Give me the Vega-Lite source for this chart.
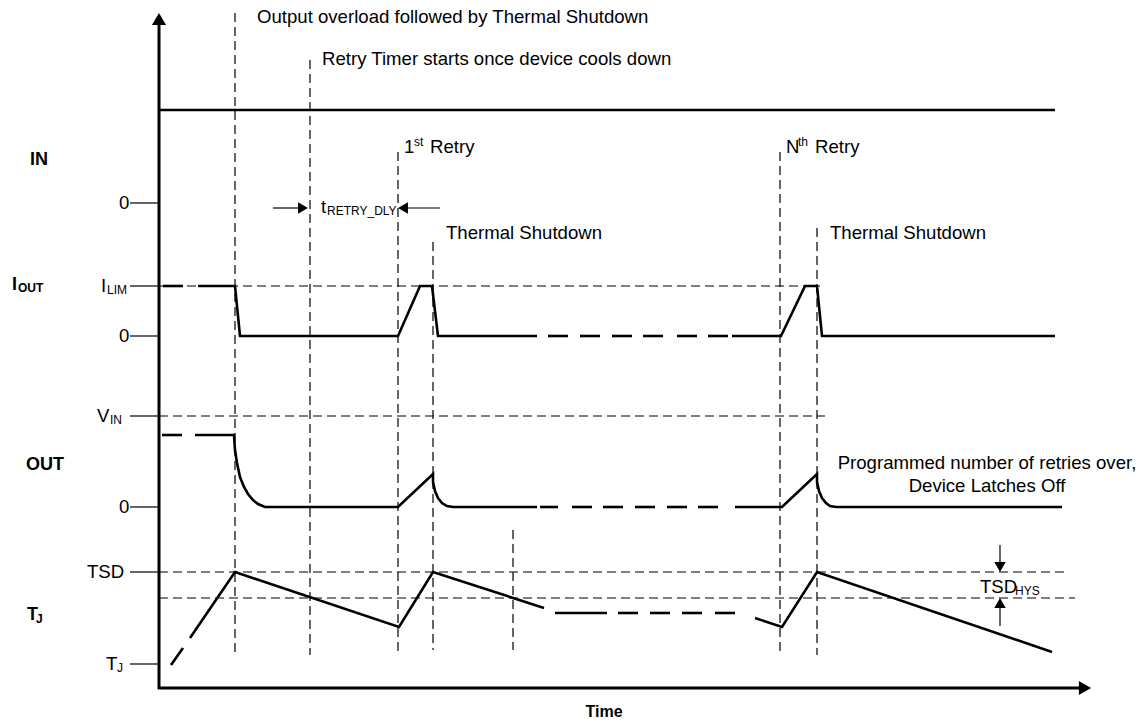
{
  "$schema": "https://vega.github.io/schema/vega-lite/v6.json",
  "width": 1141,
  "height": 723,
  "padding": 0,
  "autosize": {"type": "none"},
  "background": "white",
  "config": {"view": {"stroke": null}, "text": {"font": "Liberation Sans"}},
  "datasets": {
    "wave": [
      {"id": "in", "o": 1, "x": 159, "y": 110}, {"id": "in", "o": 2, "x": 1055, "y": 110},
      {"id": "i0", "o": 1, "x": 163, "y": 286}, {"id": "i0", "o": 2, "x": 183, "y": 286},
      {"id": "i1", "o": 1, "x": 198, "y": 286}, {"id": "i1", "o": 2, "x": 235, "y": 286}, {"id": "i1", "o": 3, "x": 240, "y": 336}, {"id": "i1", "o": 4, "x": 398, "y": 336}, {"id": "i1", "o": 5, "x": 420, "y": 286}, {"id": "i1", "o": 6, "x": 432, "y": 286}, {"id": "i1", "o": 7, "x": 438, "y": 336}, {"id": "i1", "o": 8, "x": 537, "y": 336},
      {"id": "i2", "o": 1, "x": 548, "y": 336}, {"id": "i2", "o": 2, "x": 568, "y": 336},
      {"id": "i3", "o": 1, "x": 580, "y": 336}, {"id": "i3", "o": 2, "x": 600, "y": 336},
      {"id": "i4", "o": 1, "x": 612, "y": 336}, {"id": "i4", "o": 2, "x": 632, "y": 336},
      {"id": "i5", "o": 1, "x": 643, "y": 336}, {"id": "i5", "o": 2, "x": 663, "y": 336},
      {"id": "i6", "o": 1, "x": 677, "y": 336}, {"id": "i6", "o": 2, "x": 697, "y": 336},
      {"id": "i7", "o": 1, "x": 708, "y": 336}, {"id": "i7", "o": 2, "x": 728, "y": 336},
      {"id": "i8", "o": 1, "x": 732, "y": 336}, {"id": "i8", "o": 2, "x": 781, "y": 336}, {"id": "i8", "o": 3, "x": 805, "y": 286}, {"id": "i8", "o": 4, "x": 817, "y": 286}, {"id": "i8", "o": 5, "x": 822, "y": 336}, {"id": "i8", "o": 6, "x": 1055, "y": 336},
      {"id": "o0", "o": 1, "x": 162, "y": 435}, {"id": "o0", "o": 2, "x": 182, "y": 435},
      {"id": "o1", "o": 1, "x": 195, "y": 435}, {"id": "o1", "o": 2, "x": 234, "y": 435}, {"id": "o1", "o": 3, "x": 235, "y": 450}, {"id": "o1", "o": 4, "x": 237, "y": 463}, {"id": "o1", "o": 5, "x": 240, "y": 477}, {"id": "o1", "o": 6, "x": 244, "y": 487}, {"id": "o1", "o": 7, "x": 248, "y": 494}, {"id": "o1", "o": 8, "x": 253, "y": 500}, {"id": "o1", "o": 9, "x": 258, "y": 504}, {"id": "o1", "o": 10, "x": 265, "y": 507}, {"id": "o1", "o": 11, "x": 398, "y": 507}, {"id": "o1", "o": 12, "x": 433, "y": 474}, {"id": "o1", "o": 13, "x": 433, "y": 482}, {"id": "o1", "o": 14, "x": 435, "y": 491}, {"id": "o1", "o": 15, "x": 438, "y": 498}, {"id": "o1", "o": 16, "x": 442, "y": 503}, {"id": "o1", "o": 17, "x": 447, "y": 506}, {"id": "o1", "o": 18, "x": 453, "y": 507}, {"id": "o1", "o": 19, "x": 537, "y": 507},
      {"id": "o2", "o": 1, "x": 540, "y": 507}, {"id": "o2", "o": 2, "x": 558, "y": 507},
      {"id": "o3", "o": 1, "x": 572, "y": 507}, {"id": "o3", "o": 2, "x": 592, "y": 507},
      {"id": "o4", "o": 1, "x": 603, "y": 507}, {"id": "o4", "o": 2, "x": 623, "y": 507},
      {"id": "o5", "o": 1, "x": 635, "y": 507}, {"id": "o5", "o": 2, "x": 655, "y": 507},
      {"id": "o6", "o": 1, "x": 667, "y": 507}, {"id": "o6", "o": 2, "x": 687, "y": 507},
      {"id": "o7", "o": 1, "x": 698, "y": 507}, {"id": "o7", "o": 2, "x": 718, "y": 507},
      {"id": "o8", "o": 1, "x": 735, "y": 507}, {"id": "o8", "o": 2, "x": 782, "y": 507}, {"id": "o8", "o": 3, "x": 817, "y": 474}, {"id": "o8", "o": 4, "x": 817, "y": 482}, {"id": "o8", "o": 5, "x": 819, "y": 491}, {"id": "o8", "o": 6, "x": 822, "y": 498}, {"id": "o8", "o": 7, "x": 826, "y": 503}, {"id": "o8", "o": 8, "x": 830, "y": 506}, {"id": "o8", "o": 9, "x": 836, "y": 507}, {"id": "o8", "o": 10, "x": 1062, "y": 507},
      {"id": "t0", "o": 1, "x": 171, "y": 665}, {"id": "t0", "o": 2, "x": 183, "y": 648},
      {"id": "t1", "o": 1, "x": 190, "y": 638}, {"id": "t1", "o": 2, "x": 235, "y": 572}, {"id": "t1", "o": 3, "x": 399, "y": 627}, {"id": "t1", "o": 4, "x": 433, "y": 572}, {"id": "t1", "o": 5, "x": 544, "y": 608},
      {"id": "t2", "o": 1, "x": 555, "y": 613}, {"id": "t2", "o": 2, "x": 607, "y": 613},
      {"id": "t3", "o": 1, "x": 618, "y": 613}, {"id": "t3", "o": 2, "x": 638, "y": 613},
      {"id": "t4", "o": 1, "x": 650, "y": 613}, {"id": "t4", "o": 2, "x": 670, "y": 613},
      {"id": "t5", "o": 1, "x": 682, "y": 613}, {"id": "t5", "o": 2, "x": 702, "y": 613},
      {"id": "t6", "o": 1, "x": 715, "y": 613}, {"id": "t6", "o": 2, "x": 735, "y": 613},
      {"id": "t7", "o": 1, "x": 755, "y": 618}, {"id": "t7", "o": 2, "x": 782, "y": 627}, {"id": "t7", "o": 3, "x": 817, "y": 572}, {"id": "t7", "o": 4, "x": 1052, "y": 652}
    ],
    "guides": [
      {"x": 235, "y": 13, "x2": 235, "y2": 652},
      {"x": 310, "y": 60, "x2": 310, "y2": 655},
      {"x": 398, "y": 152, "x2": 398, "y2": 653},
      {"x": 433, "y": 242, "x2": 433, "y2": 650},
      {"x": 513, "y": 530, "x2": 513, "y2": 650},
      {"x": 780, "y": 152, "x2": 780, "y2": 652},
      {"x": 817, "y": 228, "x2": 817, "y2": 655},
      {"x": 159, "y": 286, "x2": 820, "y2": 286},
      {"x": 159, "y": 416, "x2": 825, "y2": 416},
      {"x": 159, "y": 572, "x2": 1068, "y2": 572},
      {"x": 159, "y": 598, "x2": 1075, "y2": 598}
    ],
    "axes": [
      {"x": 159, "y": 689, "x2": 159, "y2": 22},
      {"x": 158, "y": 688, "x2": 1082, "y2": 688}
    ],
    "thin": [
      {"x": 130, "y": 203, "x2": 159, "y2": 203},
      {"x": 130, "y": 286, "x2": 159, "y2": 286},
      {"x": 130, "y": 336, "x2": 159, "y2": 336},
      {"x": 130, "y": 416, "x2": 159, "y2": 416},
      {"x": 130, "y": 507, "x2": 159, "y2": 507},
      {"x": 130, "y": 572, "x2": 159, "y2": 572},
      {"x": 130, "y": 664, "x2": 159, "y2": 664},
      {"x": 273, "y": 208, "x2": 300, "y2": 208},
      {"x": 440, "y": 208, "x2": 406, "y2": 208},
      {"x": 1000, "y": 545, "x2": 1000, "y2": 562},
      {"x": 1000, "y": 626, "x2": 1000, "y2": 608}
    ],
    "bigHeads": [
      {"x": 159, "y": 19, "dir": "up"},
      {"x": 1085, "y": 688, "dir": "right"}
    ],
    "smallHeads": [
      {"x": 303, "y": 208, "dir": "right"},
      {"x": 403, "y": 208, "dir": "left"},
      {"x": 1000, "y": 567, "dir": "down"},
      {"x": 1000, "y": 603, "dir": "up"}
    ],
    "labels": [
      {"x": 257, "y": 17, "t": "Output overload followed by Thermal Shutdown"},
      {"x": 322, "y": 59, "t": "Retry Timer starts once device cools down"},
      {"x": 404, "y": 147, "t": "1"},
      {"x": 430, "y": 147, "t": "Retry"},
      {"x": 786, "y": 147, "t": "N"},
      {"x": 815, "y": 147, "t": "Retry"},
      {"x": 446, "y": 233, "t": "Thermal Shutdown"},
      {"x": 830, "y": 233, "t": "Thermal Shutdown"},
      {"x": 321, "y": 207, "t": "t"},
      {"x": 980, "y": 587, "t": "TSD"},
      {"x": 119, "y": 203, "t": "0"},
      {"x": 101, "y": 286, "t": "I"},
      {"x": 119, "y": 336, "t": "0"},
      {"x": 97, "y": 416, "t": "V"},
      {"x": 119, "y": 507, "t": "0"},
      {"x": 87, "y": 572, "t": "TSD"},
      {"x": 106, "y": 664, "t": "T"}
    ],
    "small": [
      {"x": 414, "y": 142, "t": "st"},
      {"x": 798, "y": 142, "t": "th"},
      {"x": 327, "y": 211, "t": "RETRY_DLY"},
      {"x": 1015, "y": 591, "t": "HYS"},
      {"x": 107, "y": 290, "t": "LIM"},
      {"x": 110, "y": 420, "t": "IN"},
      {"x": 117, "y": 668, "t": "J"}
    ],
    "centered": [
      {"x": 987, "y": 463, "t": "Programmed number of retries over,"},
      {"x": 987, "y": 486, "t": "Device Latches Off"}
    ],
    "signals": [
      {"x": 30, "y": 160, "t": "IN"},
      {"x": 12, "y": 285, "t": "I"},
      {"x": 26, "y": 465, "t": "OUT"},
      {"x": 27, "y": 615, "t": "T"}
    ],
    "signalSubs": [
      {"x": 18, "y": 288, "t": "OUT"},
      {"x": 36, "y": 619, "t": "J"}
    ],
    "title": [
      {"x": 604, "y": 712, "t": "Time"}
    ]
  },
  "encoding": {
    "x": {"field": "x", "type": "quantitative", "scale": {"domain": [0, 1141], "nice": false, "zero": false}, "axis": null},
    "y": {"field": "y", "type": "quantitative", "scale": {"domain": [0, 723], "nice": false, "zero": false, "reverse": true}, "axis": null}
  },
  "layer": [
    {
      "data": {"name": "guides"},
      "mark": {"type": "rule", "stroke": "#000", "strokeWidth": 1.2, "strokeDash": [9, 5]},
      "encoding": {"x2": {"field": "x2"}, "y2": {"field": "y2"}}
    },
    {
      "data": {"name": "thin"},
      "mark": {"type": "rule", "stroke": "#000", "strokeWidth": 1.2},
      "encoding": {"x2": {"field": "x2"}, "y2": {"field": "y2"}}
    },
    {
      "data": {"name": "axes"},
      "mark": {"type": "rule", "stroke": "#000", "strokeWidth": 3},
      "encoding": {"x2": {"field": "x2"}, "y2": {"field": "y2"}}
    },
    {
      "data": {"name": "wave"},
      "mark": {"type": "line", "stroke": "#000", "strokeWidth": 2.6, "strokeJoin": "miter", "strokeCap": "butt"},
      "encoding": {"detail": {"field": "id"}, "order": {"field": "o", "type": "quantitative"}}
    },
    {
      "data": {"name": "bigHeads"},
      "mark": {"type": "point", "filled": true, "color": "#000", "size": 200, "opacity": 1},
      "encoding": {"shape": {"field": "dir", "type": "nominal", "scale": {"domain": ["up", "down", "left", "right"], "range": ["triangle-up", "triangle-down", "triangle-left", "triangle-right"]}, "legend": null}}
    },
    {
      "data": {"name": "smallHeads"},
      "mark": {"type": "point", "filled": true, "color": "#000", "size": 130, "opacity": 1},
      "encoding": {"shape": {"field": "dir", "type": "nominal", "scale": {"domain": ["up", "down", "left", "right"], "range": ["triangle-up", "triangle-down", "triangle-left", "triangle-right"]}, "legend": null}}
    },
    {
      "data": {"name": "labels"},
      "mark": {"type": "text", "align": "left", "baseline": "middle", "fontSize": 18.6, "color": "#000"},
      "encoding": {"text": {"field": "t"}}
    },
    {
      "data": {"name": "small"},
      "mark": {"type": "text", "align": "left", "baseline": "middle", "fontSize": 12, "color": "#000"},
      "encoding": {"text": {"field": "t"}}
    },
    {
      "data": {"name": "centered"},
      "mark": {"type": "text", "align": "center", "baseline": "middle", "fontSize": 18.6, "color": "#000"},
      "encoding": {"text": {"field": "t"}}
    },
    {
      "data": {"name": "signals"},
      "mark": {"type": "text", "align": "left", "baseline": "middle", "fontSize": 18, "fontWeight": "bold", "color": "#000"},
      "encoding": {"text": {"field": "t"}}
    },
    {
      "data": {"name": "signalSubs"},
      "mark": {"type": "text", "align": "left", "baseline": "middle", "fontSize": 12, "fontWeight": "bold", "color": "#000"},
      "encoding": {"text": {"field": "t"}}
    },
    {
      "data": {"name": "title"},
      "mark": {"type": "text", "align": "center", "baseline": "middle", "fontSize": 16, "fontWeight": "bold", "color": "#000"},
      "encoding": {"text": {"field": "t"}}
    }
  ]
}
